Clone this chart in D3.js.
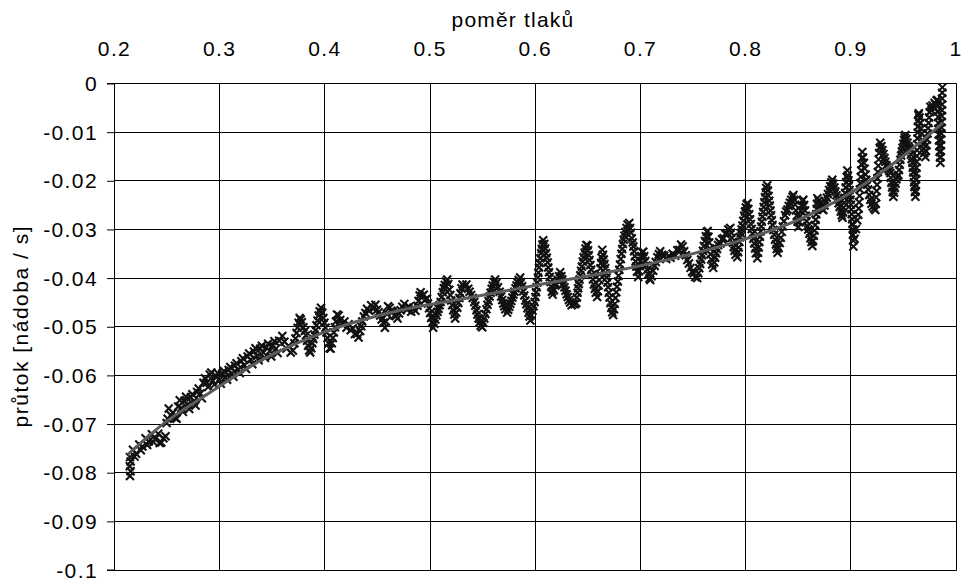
<!DOCTYPE html>
<html>
<head>
<meta charset="utf-8">
<script src="https://cdn.jsdelivr.net/npm/d3@7"></script>
<style>
  body { margin: 0; background: #fff; }
  svg { display: block; }
  text { font-family: "Liberation Sans", Arial, sans-serif; fill: #000; }
</style>
</head>
<body>
<svg id="chart" width="962" height="582"></svg>
<script>
// Axis ticks
const xTicks = [0.2, 0.3, 0.4, 0.5, 0.6, 0.7, 0.8, 0.9, 1];
const yTicks = [0, -0.01, -0.02, -0.03, -0.04, -0.05, -0.06, -0.07, -0.08, -0.09, -0.1];

// Measured samples [pressure ratio, flow], recorded in consecutive runs
const run1 = [[0.2152,-0.0808],[0.2158,-0.0798],[0.2150,-0.0788],[0.2158,-0.0778],[0.2152,-0.0769],
[0.218,-0.0754],[0.221,-0.0762],[0.224,-0.0743],[0.227,-0.0747],[0.230,-0.0730],[0.233,-0.0737],[0.236,-0.0722],[0.239,-0.0732],[0.242,-0.0721],[0.245,-0.0739],[0.247,-0.0730],[0.249,-0.0726],[0.250,-0.0699],[0.251,-0.0690],[0.252,-0.0669],[0.254,-0.0683],[0.256,-0.0678],[0.258,-0.0688],[0.261,-0.0665],[0.264,-0.0668],[0.267,-0.0653],[0.270,-0.0661],[0.273,-0.0646],[0.276,-0.0654],[0.279,-0.0635],[0.282,-0.0638],[0.285,-0.0616],[0.288,-0.0616],[0.291,-0.0599],[0.294,-0.0612],[0.297,-0.0602],[0.300,-0.0611],[0.303,-0.0597],[0.306,-0.0605],[0.309,-0.0590],[0.312,-0.0597],[0.315,-0.0581],[0.318,-0.0589],[0.321,-0.0572],[0.324,-0.0580],[0.327,-0.0562],[0.330,-0.0569],[0.333,-0.0552],[0.336,-0.0561],[0.339,-0.0546]];

// Repeat passes over the low-ratio range (lower and upper edge of the band)
const run1b = [[0.2195,-0.0768],[0.2255,-0.0755],[0.2315,-0.0744],[0.2375,-0.0738],[0.2435,-0.0740],[0.2595,-0.0690],[0.2655,-0.0676],[0.2715,-0.0670],[0.2775,-0.0663],[0.2835,-0.0648],[0.2895,-0.0625],[0.2955,-0.0620],[0.3015,-0.0618],[0.3075,-0.0610],[0.3135,-0.0604],[0.3195,-0.0596],[0.3255,-0.0588],[0.3315,-0.0578],[0.3375,-0.0570],[0.3435,-0.0565],[0.3495,-0.0562],[0.3555,-0.0555]];
const run1c = [[0.2625,-0.0652],[0.2685,-0.0645],[0.2745,-0.0640],[0.2805,-0.0628],[0.2865,-0.0607],[0.2925,-0.0595],[0.2985,-0.0596],[0.3045,-0.0592],[0.3105,-0.0584],[0.3165,-0.0576],[0.3225,-0.0566],[0.3285,-0.0556],[0.3345,-0.0545],[0.3405,-0.0540],[0.3465,-0.0536],[0.3525,-0.0531]];

const run2 = [[0.342,-0.0554],[0.345,-0.0543],[0.348,-0.0551],[0.351,-0.0539],[0.354,-0.0546],[0.357,-0.0530],[0.360,-0.0520],[0.362,-0.0532],[0.364,-0.0546],[0.366,-0.0540],[0.368,-0.0554],[0.370,-0.0550],[0.3715,-0.0535],[0.3725,-0.0525],[0.3735,-0.0514],[0.3745,-0.0503],[0.3755,-0.0493],[0.3765,-0.0483],[0.3775,-0.0486],[0.3785,-0.0492],[0.380,-0.0502],[0.3815,-0.0510],[0.3825,-0.0519],[0.3835,-0.0530],[0.3845,-0.0540],[0.3855,-0.0550],[0.3865,-0.0554],[0.3875,-0.0545],[0.3885,-0.0535],[0.3895,-0.0526],[0.3905,-0.0517],[0.3915,-0.0508],[0.3925,-0.0498],[0.3935,-0.0488],[0.3945,-0.0478],[0.3955,-0.0469],[0.3968,-0.0462],[0.398,-0.0472],[0.399,-0.0483],[0.400,-0.0493],[0.401,-0.0503],[0.402,-0.0513],[0.403,-0.0524],[0.404,-0.0535],[0.405,-0.0545],[0.406,-0.0546],[0.407,-0.0535],[0.408,-0.0524],[0.409,-0.0513],[0.410,-0.0502],[0.411,-0.0490],[0.412,-0.0476],[0.4135,-0.0478],[0.415,-0.0487],[0.417,-0.0496],[0.419,-0.0490],[0.421,-0.0503],[0.423,-0.0496],[0.425,-0.0508],[0.427,-0.0504],[0.429,-0.0516],[0.431,-0.0516],[0.4325,-0.0523],[0.434,-0.0510],[0.435,-0.0500],[0.436,-0.0490],[0.4375,-0.0480],[0.439,-0.0473],[0.4405,-0.0464],[0.4425,-0.0468],[0.4445,-0.0457],[0.4465,-0.0464],[0.4485,-0.0456],[0.450,-0.0466],[0.4515,-0.0471],[0.453,-0.0478],[0.4545,-0.0486],[0.456,-0.0493],[0.4575,-0.0503],[0.4585,-0.0490],[0.4595,-0.0475],[0.4605,-0.0459],[0.462,-0.0462],[0.4635,-0.0468],[0.465,-0.0470],[0.4665,-0.0478],[0.468,-0.0479],[0.4695,-0.0484],[0.471,-0.0474],[0.4725,-0.0467],[0.474,-0.0460],[0.476,-0.0454]];

const run3 = [[0.4785,-0.0466],[0.4805,-0.0460],[0.4825,-0.0470],[0.4845,-0.0462],[0.4865,-0.0468],[0.4885,-0.0458],[0.4895,-0.0448],[0.4905,-0.0437],[0.4915,-0.0430],[0.493,-0.0438],[0.4945,-0.0435],[0.496,-0.0445],[0.4975,-0.0443],[0.4985,-0.0453],[0.4995,-0.0463],[0.5005,-0.0473],[0.5015,-0.0483],[0.5025,-0.0493],[0.5034,-0.0503],[0.5045,-0.0495],[0.5055,-0.0486],[0.5065,-0.0478],[0.5075,-0.0470],[0.5085,-0.0464],[0.5095,-0.0457],[0.5105,-0.0450],[0.5115,-0.0440],[0.5125,-0.0430],[0.5135,-0.0422],[0.5145,-0.0415],[0.5155,-0.0408],[0.5167,-0.0404],[0.5177,-0.0413],[0.5187,-0.0425],[0.5197,-0.0436],[0.5205,-0.0447],[0.5215,-0.0457],[0.5225,-0.0467],[0.5235,-0.0476],[0.5243,-0.0484],[0.5253,-0.0472],[0.5263,-0.0462],[0.5273,-0.0452],[0.5283,-0.0442],[0.5293,-0.0432],[0.5303,-0.0422],[0.5313,-0.0414],[0.533,-0.0419],[0.535,-0.0414],[0.5367,-0.0423],[0.538,-0.0429],[0.5395,-0.0436],[0.541,-0.0442],[0.5425,-0.0450],[0.5435,-0.0458],[0.5445,-0.0467],[0.5455,-0.0476],[0.5465,-0.0484],[0.5475,-0.0492],[0.5485,-0.0499],[0.550,-0.0502],[0.551,-0.0493],[0.552,-0.0484],[0.553,-0.0475],[0.554,-0.0465],[0.555,-0.0456],[0.556,-0.0448],[0.557,-0.0439],[0.558,-0.0431],[0.559,-0.0423],[0.560,-0.0416],[0.561,-0.0409],[0.5623,-0.0404],[0.5635,-0.0411],[0.565,-0.0420],[0.5665,-0.0429],[0.568,-0.0439],[0.569,-0.0446],[0.570,-0.0453],[0.571,-0.0459],[0.572,-0.0465],[0.5737,-0.0472],[0.5747,-0.0466],[0.5757,-0.0460],[0.5767,-0.0454],[0.5777,-0.0448],[0.5787,-0.0441],[0.5797,-0.0435],[0.5807,-0.0429],[0.5817,-0.0422],[0.5827,-0.0416],[0.5837,-0.0410],[0.5847,-0.0405],[0.5861,-0.0400],[0.587,-0.0409],[0.588,-0.0418],[0.589,-0.0428],[0.590,-0.0437],[0.591,-0.0447],[0.592,-0.0455],[0.593,-0.0463],[0.594,-0.0472],[0.595,-0.0480],[0.5958,-0.0488]];

const run4 = [[0.5968,-0.0477],[0.5978,-0.0468],[0.5988,-0.0459],[0.5998,-0.0450],[0.6006,-0.0440],[0.6012,-0.0430],[0.6018,-0.0420],[0.6024,-0.0410],[0.6030,-0.0400],[0.6034,-0.0390],[0.6040,-0.0379],[0.6046,-0.0370],[0.6053,-0.0360],[0.6060,-0.0350],[0.6066,-0.0341],[0.6073,-0.0332],[0.6080,-0.0323],[0.6090,-0.0331],[0.6098,-0.0340],[0.6106,-0.0350],[0.6114,-0.0359],[0.6122,-0.0369],[0.6128,-0.0379],[0.6135,-0.0389],[0.6142,-0.0399],[0.6149,-0.0409],[0.6156,-0.0419],[0.6163,-0.0429],[0.6170,-0.0435],[0.6182,-0.0426],[0.6194,-0.0416],[0.6206,-0.0414],[0.6218,-0.0405],[0.6230,-0.0397],[0.6241,-0.0389],[0.6252,-0.0397],[0.6262,-0.0404],[0.6272,-0.0412],[0.6282,-0.0420],[0.6292,-0.0427],[0.6303,-0.0434],[0.6314,-0.0440],[0.6325,-0.0446],[0.6336,-0.0451],[0.6350,-0.0457],[0.6365,-0.0454],[0.6380,-0.0455],[0.6394,-0.0452],[0.6400,-0.0441],[0.6406,-0.0431],[0.6412,-0.0422],[0.6418,-0.0413],[0.6425,-0.0404],[0.6432,-0.0395],[0.6440,-0.0386],[0.6448,-0.0377],[0.6456,-0.0367],[0.6464,-0.0358],[0.6473,-0.0349],[0.6482,-0.0340],[0.6491,-0.0333],[0.6500,-0.0334],[0.6506,-0.0344],[0.6513,-0.0354],[0.6520,-0.0364],[0.6528,-0.0374],[0.6536,-0.0384],[0.6544,-0.0394],[0.6553,-0.0404],[0.6562,-0.0414],[0.6571,-0.0423],[0.6580,-0.0431],[0.6593,-0.0440],[0.6600,-0.0428],[0.6606,-0.0416],[0.6612,-0.0405],[0.6618,-0.0393],[0.6624,-0.0381],[0.6630,-0.0370],[0.6635,-0.0359],[0.6641,-0.0343],[0.6648,-0.0353],[0.6655,-0.0363],[0.6662,-0.0372],[0.6669,-0.0381],[0.6676,-0.0391],[0.6683,-0.0400],[0.6690,-0.0410],[0.6697,-0.0420],[0.6704,-0.0431],[0.6711,-0.0441],[0.6719,-0.0452],[0.6727,-0.0462],[0.6736,-0.0471],[0.6745,-0.0477],[0.6753,-0.0465],[0.6760,-0.0454],[0.6767,-0.0442],[0.6774,-0.0430],[0.6781,-0.0419],[0.6789,-0.0408],[0.6796,-0.0396],[0.6803,-0.0384],[0.6810,-0.0373],[0.6817,-0.0362],[0.6824,-0.0351],[0.6831,-0.0341],[0.6838,-0.0331],[0.6845,-0.0322],[0.6853,-0.0314],[0.6862,-0.0306],[0.6872,-0.0298],[0.6882,-0.0291],[0.6898,-0.0288],[0.6906,-0.0298],[0.6914,-0.0308],[0.6922,-0.0319],[0.6930,-0.0328],[0.6937,-0.0336],[0.6944,-0.0346],[0.6951,-0.0356],[0.6958,-0.0367],[0.6965,-0.0377],[0.6972,-0.0388],[0.6983,-0.0399],[0.6990,-0.0387],[0.6997,-0.0376],[0.7005,-0.0366],[0.7013,-0.0356],[0.7022,-0.0348],[0.7031,-0.0347],[0.7040,-0.0356],[0.7050,-0.0366],[0.7060,-0.0375],[0.7070,-0.0384],[0.7080,-0.0393],[0.7090,-0.0402],[0.7097,-0.0405],[0.7110,-0.0397],[0.7125,-0.0386],[0.7140,-0.0376],[0.7150,-0.0368],[0.7165,-0.0358],[0.7180,-0.0352],[0.7192,-0.0346],[0.7210,-0.0353],[0.7230,-0.0355],[0.7250,-0.0362],[0.7270,-0.0356],[0.7290,-0.0359],[0.7310,-0.0351],[0.7335,-0.0355]];

const run5 = [[0.7355,-0.0344],[0.7375,-0.0343],[0.7390,-0.0332],[0.7405,-0.0336],[0.7420,-0.0346],[0.7435,-0.0354],[0.7450,-0.0364],[0.7465,-0.0371],[0.7480,-0.0380],[0.7495,-0.0388],[0.7510,-0.0391],[0.7525,-0.0399],[0.7544,-0.0401],[0.7554,-0.0391],[0.7563,-0.0381],[0.7572,-0.0372],[0.7581,-0.0363],[0.7590,-0.0354],[0.7599,-0.0345],[0.7608,-0.0335],[0.7617,-0.0325],[0.7626,-0.0315],[0.7635,-0.0306],[0.7643,-0.0304],[0.7650,-0.0316],[0.7657,-0.0328],[0.7664,-0.0340],[0.7671,-0.0352],[0.7678,-0.0363],[0.7686,-0.0373],[0.7696,-0.0380],[0.7705,-0.0369],[0.7714,-0.0359],[0.7723,-0.0350],[0.7732,-0.0341],[0.7742,-0.0333],[0.7753,-0.0327],[0.7765,-0.0330],[0.7780,-0.0321],[0.7795,-0.0319],[0.7810,-0.0310],[0.7825,-0.0309],[0.7840,-0.0301],[0.7858,-0.0298],[0.7866,-0.0308],[0.7874,-0.0318],[0.7882,-0.0328],[0.7890,-0.0337],[0.7898,-0.0345],[0.7908,-0.0353],[0.7925,-0.0358],[0.7932,-0.0348],[0.7938,-0.0338],[0.7944,-0.0327],[0.7950,-0.0317],[0.7958,-0.0309],[0.7966,-0.0301],[0.7974,-0.0293],[0.7982,-0.0283],[0.7990,-0.0273],[0.7998,-0.0264],[0.8006,-0.0256],[0.8014,-0.0249],[0.8022,-0.0247],[0.8030,-0.0259],[0.8038,-0.0270],[0.8046,-0.0280],[0.8054,-0.0290],[0.8062,-0.0300],[0.8070,-0.0310],[0.8078,-0.0320],[0.8086,-0.0330],[0.8094,-0.0340],[0.8102,-0.0350],[0.8115,-0.0360],[0.8122,-0.0349],[0.8128,-0.0338],[0.8134,-0.0327],[0.8140,-0.0316],[0.8146,-0.0305],[0.8152,-0.0295],[0.8158,-0.0285],[0.8164,-0.0275],[0.8170,-0.0265],[0.8176,-0.0255],[0.8182,-0.0245],[0.8188,-0.0235],[0.8194,-0.0225],[0.8200,-0.0216],[0.8210,-0.0210],[0.8216,-0.0221],[0.8222,-0.0232],[0.8228,-0.0242],[0.8234,-0.0252],[0.8240,-0.0262],[0.8246,-0.0272],[0.8253,-0.0282],[0.8260,-0.0292],[0.8268,-0.0302],[0.8276,-0.0312],[0.8284,-0.0322],[0.8292,-0.0332],[0.8300,-0.0341],[0.8308,-0.0349],[0.8318,-0.0339],[0.8328,-0.0329],[0.8338,-0.0318],[0.8348,-0.0306],[0.8358,-0.0295],[0.8368,-0.0284],[0.8380,-0.0272],[0.8390,-0.0264],[0.8402,-0.0260],[0.8414,-0.0253],[0.8426,-0.0246],[0.8438,-0.0240],[0.8450,-0.0234],[0.8458,-0.0230],[0.8466,-0.0240],[0.8474,-0.0250],[0.8482,-0.0262],[0.8490,-0.0273],[0.8498,-0.0285],[0.8505,-0.0296],[0.8513,-0.0286],[0.8521,-0.0274],[0.8529,-0.0263],[0.8537,-0.0252],[0.8545,-0.0242],[0.8552,-0.0240],[0.8560,-0.0251],[0.8568,-0.0262],[0.8576,-0.0273],[0.8584,-0.0284],[0.8592,-0.0294],[0.8600,-0.0301],[0.8610,-0.0310],[0.8620,-0.0319],[0.8630,-0.0327],[0.8638,-0.0335]];

const run6 = [[0.8645,-0.0325],[0.8652,-0.0314],[0.8659,-0.0303],[0.8665,-0.0292],[0.8670,-0.0281],[0.8675,-0.0270],[0.8680,-0.0259],[0.8683,-0.0248],[0.8686,-0.0237],[0.8698,-0.0242],[0.8710,-0.0248],[0.8722,-0.0254],[0.8734,-0.0260],[0.8743,-0.0261],[0.8754,-0.0252],[0.8765,-0.0244],[0.8776,-0.0236],[0.8787,-0.0228],[0.8798,-0.0220],[0.8809,-0.0212],[0.8820,-0.0204],[0.8828,-0.0199],[0.8838,-0.0207],[0.8848,-0.0215],[0.8858,-0.0223],[0.8868,-0.0231],[0.8878,-0.0239],[0.8888,-0.0247],[0.8898,-0.0255],[0.8908,-0.0264],[0.8918,-0.0272],[0.8925,-0.0277],[0.8930,-0.0266],[0.8935,-0.0256],[0.8940,-0.0246],[0.8945,-0.0236],[0.8950,-0.0226],[0.8955,-0.0215],[0.8960,-0.0204],[0.8965,-0.0193],[0.8971,-0.0180],[0.8976,-0.0190],[0.8981,-0.0200],[0.8986,-0.0210],[0.8991,-0.0220],[0.8996,-0.0230],[0.9001,-0.0240],[0.9005,-0.0250],[0.9009,-0.0260],[0.9013,-0.0270],[0.9017,-0.0280],[0.9020,-0.0290],[0.9023,-0.0301],[0.9025,-0.0312],[0.9027,-0.0324],[0.9028,-0.0336],[0.9040,-0.0320],[0.9053,-0.0300],[0.9065,-0.0282],[0.9075,-0.0271],[0.9079,-0.0258],[0.9083,-0.0245],[0.9087,-0.0232],[0.9091,-0.0219],[0.9095,-0.0206],[0.9099,-0.0193],[0.9103,-0.0180],[0.9107,-0.0167],[0.9110,-0.0154],[0.9113,-0.0142],[0.9120,-0.0153],[0.9128,-0.0164],[0.9136,-0.0176],[0.9144,-0.0188],[0.9151,-0.0199],[0.9160,-0.0209],[0.9169,-0.0219],[0.9179,-0.0230],[0.9189,-0.0240],[0.9200,-0.0248],[0.9212,-0.0254],[0.9225,-0.0258],[0.9237,-0.0261],[0.9241,-0.0248],[0.9245,-0.0235],[0.9249,-0.0222],[0.9253,-0.0209],[0.9257,-0.0196],[0.9261,-0.0183],[0.9265,-0.0170],[0.9269,-0.0157],[0.9274,-0.0144],[0.9279,-0.0133],[0.9284,-0.0123],[0.9294,-0.0130],[0.9304,-0.0138],[0.9314,-0.0146],[0.9324,-0.0154],[0.9333,-0.0162],[0.9342,-0.0169],[0.9352,-0.0173],[0.9361,-0.0177],[0.9370,-0.0181],[0.9380,-0.0185],[0.9385,-0.0195],[0.9390,-0.0205],[0.9396,-0.0215],[0.9402,-0.0224],[0.9408,-0.0234],[0.9415,-0.0225],[0.9422,-0.0216],[0.9430,-0.0207],[0.9438,-0.0198],[0.9446,-0.0192],[0.9456,-0.0189],[0.9462,-0.0179],[0.9469,-0.0168],[0.9475,-0.0158],[0.9482,-0.0149],[0.9489,-0.0141],[0.9496,-0.0133],[0.9503,-0.0125],[0.9510,-0.0117],[0.9516,-0.0112],[0.9522,-0.0107],[0.9532,-0.0115],[0.9542,-0.0123],[0.9552,-0.0130],[0.9561,-0.0134],[0.9570,-0.0138],[0.9576,-0.0147],[0.9582,-0.0156],[0.9589,-0.0164],[0.9593,-0.0174],[0.9597,-0.0184],[0.9601,-0.0194],[0.9605,-0.0204],[0.9609,-0.0214],[0.9613,-0.0224],[0.9618,-0.0234],[0.9620,-0.0222],[0.9622,-0.0210],[0.9624,-0.0198],[0.9626,-0.0186],[0.9628,-0.0174],[0.9630,-0.0162],[0.9632,-0.0150],[0.9634,-0.0138],[0.9636,-0.0126],[0.9638,-0.0114],[0.9640,-0.0102],[0.9642,-0.0090],[0.9644,-0.0078],[0.9646,-0.0066],[0.9650,-0.0062],[0.9657,-0.0071],[0.9665,-0.0082],[0.9672,-0.0093],[0.9679,-0.0104],[0.9684,-0.0117],[0.9690,-0.0126],[0.9696,-0.0135],[0.9703,-0.0144],[0.9713,-0.0152],[0.9718,-0.0140],[0.9723,-0.0128],[0.9728,-0.0116],[0.9733,-0.0104],[0.9738,-0.0093],[0.9743,-0.0082],[0.9748,-0.0071],[0.9754,-0.0060],[0.9760,-0.0049],[0.9770,-0.0056],[0.9780,-0.0046],[0.9790,-0.0051],[0.9800,-0.0041],[0.9810,-0.0044],[0.9820,-0.0036],[0.9827,-0.0035],[0.9830,-0.0046],[0.9832,-0.0058],[0.9834,-0.0070],[0.9836,-0.0082],[0.9838,-0.0094],[0.9840,-0.0106],[0.9843,-0.0118],[0.9846,-0.0130],[0.9849,-0.0142],[0.9852,-0.0153],[0.9855,-0.0164],[0.9857,-0.0152],[0.9859,-0.0140],[0.9860,-0.0128],[0.9862,-0.0116],[0.9864,-0.0104],[0.9866,-0.0092],[0.9868,-0.0080],[0.9869,-0.0068],[0.9870,-0.0056],[0.9871,-0.0044],[0.9872,-0.0032],[0.9873,-0.0020],[0.9874,-0.0009]];

// Fitted trend curve
const trendRatio = [0.213, 0.249, 0.285, 0.34, 0.40, 0.47, 0.536, 0.605, 0.667, 0.733, 0.795, 0.826, 0.857, 0.889, 0.921, 0.952, 0.988];
const trendFlow  = [-0.0764, -0.0697, -0.0645, -0.0570, -0.0512, -0.0468, -0.0442, -0.0414, -0.0390, -0.0360, -0.0324, -0.0302, -0.0275, -0.0240, -0.0197, -0.0147, -0.0082];

const samples = [].concat(run1, run1b, run1c, run2, run3, run4, run5, run6);
const trend = trendRatio.map((r, i) => [r, trendFlow[i]]);

const svg = d3.select("#chart");
const x = d3.scaleLinear().domain([0.2, 1]).range([114, 955.6]);
const y = d3.scaleLinear().domain([-0.1, 0]).range([569.5, 83]);
const crisp = v => Math.round(v) + 0.5;

// Grid
const grid = svg.append("g").attr("stroke", "#000").attr("stroke-width", 1);
grid.selectAll("line.h").data(yTicks).join("line")
  .attr("class", "h")
  .attr("x1", x(0.2)).attr("x2", crisp(x(1)))
  .attr("y1", d => crisp(y(d))).attr("y2", d => crisp(y(d)));
grid.selectAll("line.v").data(xTicks).join("line")
  .attr("class", "v")
  .attr("x1", d => crisp(x(d))).attr("x2", d => crisp(x(d)))
  .attr("y1", crisp(y(0))).attr("y2", crisp(y(-0.1)));

// Axes
const fmtY = d => String(Math.round(d * 100) / 100);
const yAxis = svg.append("g")
  .attr("transform", `translate(${crisp(x(0.2)) - 0.5},0)`)
  .call(d3.axisLeft(y).tickValues(yTicks).tickSize(7).tickPadding(9).tickFormat(fmtY));
yAxis.select(".domain").attr("stroke", "#000");
yAxis.selectAll(".tick line").attr("stroke", "#000").attr("transform", "translate(0,0.5)");
yAxis.selectAll(".tick text")
  .attr("font-family", "'Liberation Sans', Arial, sans-serif")
  .attr("font-size", 21).attr("letter-spacing", "1.4px").attr("dy", "0.36em");

const xAxis = svg.append("g")
  .attr("transform", `translate(0,${y(0)})`)
  .call(d3.axisTop(x).tickValues(xTicks).tickSize(0).tickPadding(27).tickFormat(d => String(d)));
xAxis.select(".domain").remove();
xAxis.selectAll(".tick text")
  .attr("font-family", "'Liberation Sans', Arial, sans-serif")
  .attr("font-size", 21).attr("letter-spacing", "1.4px");

// Axis titles
svg.append("text")
  .attr("x", 513).attr("y", 27)
  .attr("text-anchor", "middle")
  .attr("font-size", 21).attr("letter-spacing", "1.2px")
  .text("poměr tlaků");
svg.append("text")
  .attr("transform", `translate(28,${(y(0) + y(-0.1)) / 2}) rotate(-90)`)
  .attr("text-anchor", "middle")
  .attr("font-size", 21).attr("letter-spacing", "1.5px")
  .text("průtok [nádoba / s]");

// Sample markers
const s = 4;
svg.append("g")
  .attr("stroke", "#111").attr("stroke-width", 2.1).attr("fill", "none")
  .selectAll("path").data(samples).join("path")
  .attr("transform", d => `translate(${x(d[0])},${y(d[1])})`)
  .attr("d", `M${-s},${-s}L${s},${s}M${-s},${s}L${s},${-s}`);

// Trend curve
svg.append("path")
  .datum(trend)
  .attr("fill", "none").attr("stroke", "#5c5c5c").attr("stroke-width", 3)
  .attr("d", d3.line().x(d => x(d[0])).y(d => y(d[1])).curve(d3.curveMonotoneX));
</script>
</body>
</html>
